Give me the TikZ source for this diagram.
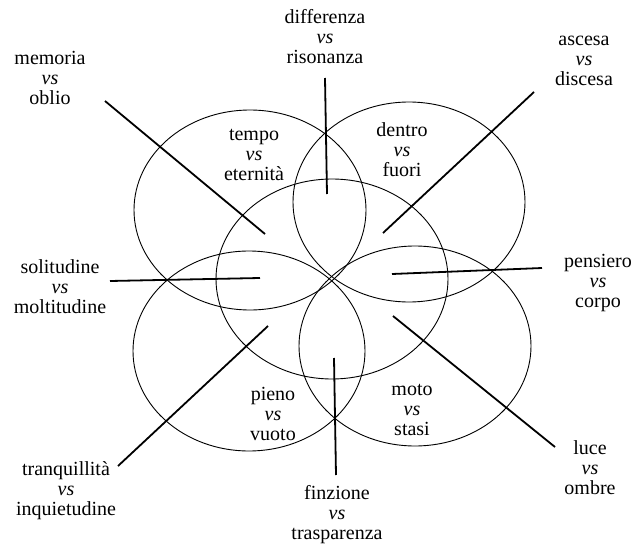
\documentclass[tikz,border=0pt]{standalone}
\usepackage{fontspec}
\setmainfont{Liberation Serif}
\usetikzlibrary{shapes.geometric}
\begin{document}
\begin{tikzpicture}[x=1pt,y=-1pt,
  lbl/.style={align=center,inner sep=0pt,font=\fontsize{20}{20}\selectfont},
  oval/.style={draw,ellipse,line width=0.9pt,minimum width=232pt,minimum height=200pt,inner sep=0pt},
  bar/.style={line width=1.8pt}]
\useasboundingbox (0,0) rectangle (641,546);
% ellipses
\node[oval] (tl) at (250,210) {};
\node[oval] (tr) at (409,202) {};
\node[oval] (ce) at (332,279) {};
\node[oval] (bl) at (249,351) {};
\node[oval] (br) at (415,346) {};
% labels
\node[lbl] (memoria) at (50,78) {memoria\\\textit{vs}\\oblio};
\node[lbl] (differenza) at (325,37) {differenza\\\textit{vs}\\risonanza};
\node[lbl] (ascesa) at (584,61) {ascesa\\\textit{vs}\\discesa};
\node[lbl] (tempo) at (254,155) {tempo\\\textit{vs}\\eternità};
\node[lbl] (dentro) at (402,150) {dentro\\\textit{vs}\\fuori};
\node[lbl] (pensiero) at (598,283) {pensiero\\\textit{vs}\\corpo};
\node[lbl] (solitudine) at (60,287) {solitudine\\\textit{vs}\\moltitudine};
\node[lbl] (pieno) at (273,414) {pieno\\\textit{vs}\\vuoto};
\node[lbl] (moto) at (412,410) {moto\\\textit{vs}\\stasi};
\node[lbl] (tranquillita) at (66,491) {tranquillità\\\textit{vs}\\inquietudine};
\node[lbl] (finzione) at (337,515) {finzione\\\textit{vs}\\trasparenza};
\node[lbl] (luce) at (590,468) {luce\\\textit{vs}\\ombre};
% line end points
\coordinate (m1) at (105,101); \coordinate (m2) at (265,234);
\coordinate (d1) at (325,78);  \coordinate (d2) at (327,194);
\coordinate (a1) at (534,92);  \coordinate (a2) at (383,233);
\coordinate (p1) at (542,268); \coordinate (p2) at (392,274);
\coordinate (l1) at (555,447); \coordinate (l2) at (393,316);
\coordinate (f1) at (336,475); \coordinate (f2) at (334,358);
\coordinate (t1) at (118,466); \coordinate (t2) at (268,326);
\coordinate (s1) at (110,281); \coordinate (s2) at (260,278);
\draw[bar] (m1) -- (m2);
\draw[bar] (d1) -- (d2);
\draw[bar] (a1) -- (a2);
\draw[bar] (p1) -- (p2);
\draw[bar] (l1) -- (l2);
\draw[bar] (f1) -- (f2);
\draw[bar] (t1) -- (t2);
\draw[bar] (s1) -- (s2);
\end{tikzpicture}
\end{document}
